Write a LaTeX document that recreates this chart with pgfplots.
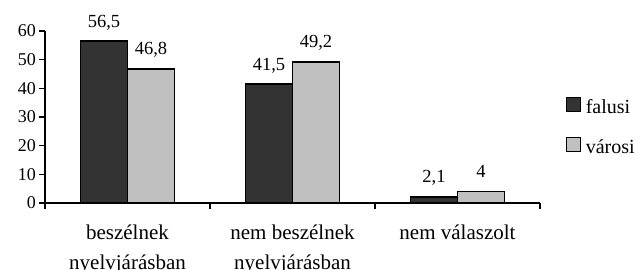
\documentclass[border=0pt]{standalone}
\usepackage{fontspec}
\setmainfont{Liberation Serif}
\usepackage{pgfplots}
\pgfplotsset{compat=1.18}
\definecolor{darkbar}{HTML}{333333}
\definecolor{lightbar}{HTML}{C0C0C0}
\begin{document}
\begin{tikzpicture}
\begin{axis}[
  at={(0pt,0pt)}, anchor=south west,
  scale only axis, width=495pt, height=172pt,
  xmin=-0.5, xmax=2.5, ymin=0, ymax=60,
  axis lines*=left,
  axis line style={line width=1.2pt, -},
  ybar=0pt, bar width=47pt,
  tick align=outside,
  major tick length=6pt,
  tick style={black, line width=1.2pt},
  xtick={-0.5,0.5,1.5,2.5},
  xticklabels={{},{},{},{}},
  extra x ticks={0,1,2},
  extra x tick labels={{beszélnek\\nyelvjárásban},{nem beszélnek\\nyelvjárásban},{nem válaszolt}},
  extra x tick style={major tick length=0pt},
  xticklabel style={align=center, font=\fontsize{21}{30}\selectfont, anchor=north, inner sep=0pt, yshift=-22pt},
  ytick={0,10,...,60},
  yticklabel style={font=\fontsize{18}{20}\selectfont, inner sep=0pt, xshift=-3pt},
  /pgf/number format/assume math mode=true,
  nodes near coords={\pgfmathprintnumber[fixed, precision=1, use comma]{\pgfplotspointmeta}},
  nodes near coords style={font=\fontsize{18.5}{20}\selectfont, anchor=base, yshift=14pt, black},
  legend style={draw=none, fill=none, at={(1,0.5)}, anchor=west, xshift=26pt, yshift=-10pt,
    font=\fontsize{20}{24}\selectfont, row sep=20pt, inner sep=0pt},
  legend cell align=left,
  legend image code/.code={\draw[#1, line width=1.2pt] (0pt,-4pt) rectangle (14pt,10pt); \path[draw=none,fill=none] (17pt,0pt);},
]
\addplot[fill=darkbar, draw=black, line width=1.5pt] coordinates {(0,56.5) (1,41.5) (2,2.1)};
\addplot[fill=lightbar, draw=black, line width=1.5pt] coordinates {(0,46.8) (1,49.2) (2,4)};
\legend{falusi, városi}
\end{axis}
\pgfresetboundingbox
\useasboundingbox (-45pt,-67pt) rectangle (595pt,203pt);
\end{tikzpicture}
\end{document}
